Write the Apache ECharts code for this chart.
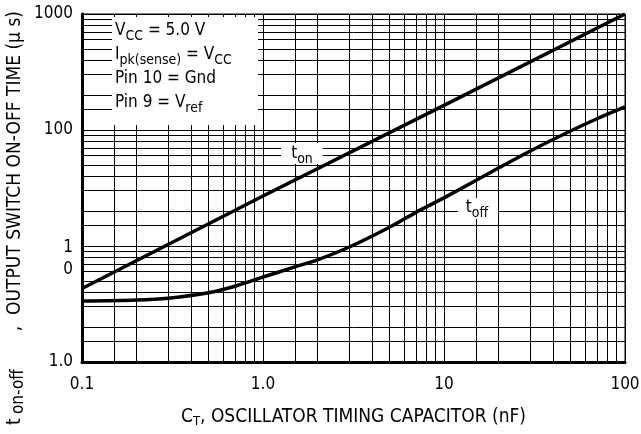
<!DOCTYPE html>
<html>
<head>
<meta charset="utf-8">
<script src="https://cdn.jsdelivr.net/npm/echarts@6/dist/echarts.min.js"></script>
<style>
  html, body { margin: 0; padding: 0; background: #fff; }
  #chart_main { width: 641px; height: 434px; }
</style>
</head>
<body>
<div id="chart_main"></div>
<script>
// capacitor values (nF) and switch times (us)
var tOnCt = [0.1, 1, 10, 100]
var tOnTime = [4.3, 27, 163, 1000]
var tOffCt = [0.1, 0.2, 0.3, 0.5, 0.7, 1, 1.5, 2, 3, 5, 7, 10, 20, 30, 50, 70, 100]
var tOffTime = [3.35, 3.42, 3.55, 3.95, 4.5, 5.4, 6.6, 7.6, 9.8, 14.5, 19.5, 26, 47, 66, 98, 125, 158]

// tick labels per decade (index = log10 offset from axis min)
var xTickLabels = ['0.1', '1.0', '10', '100']
var yTickLabels = ['1.0', '1\n0', '100', '1000']

// minor grid values
var xGrid = [0.15, 0.2, 0.3, 0.4, 0.5, 0.6, 0.7, 0.8, 0.9,
  1.5, 2, 3, 4, 5, 6, 7, 8, 9,
  15, 20, 30, 40, 50, 60, 70, 80, 90]
var yGrid = [1.5, 2, 3, 4, 5, 6, 7, 8, 9,
  15, 20, 30, 40, 50, 60, 70, 80, 90,
  150, 200, 300, 400, 500, 600, 700, 800, 900]

var FONT = '"DejaVu Sans Condensed", "Liberation Sans Narrow", sans-serif'

function pairs(xs, ys) {
  return xs.map(function (x, i) { return [x, ys[i]] })
}

var gridLines = []
xGrid.forEach(function (v) { gridLines.push({ xAxis: v }) })
yGrid.forEach(function (v) { gridLines.push({ yAxis: v }) })

var subRich = {
  n: { fontSize: 17, fontFamily: FONT, fill: '#000', lineHeight: 24 },
  s: { fontSize: 14, fontFamily: FONT, fill: '#000', lineHeight: 14, verticalAlign: 'bottom' }
}

var chart = echarts.init(document.getElementById('chart_main'))
chart.setOption({
  animation: false,
  backgroundColor: '#fff',
  textStyle: { fontFamily: FONT },
  grid: {
    left: 82,
    right: 16,
    top: 14,
    bottom: 72,
    outerBoundsMode: 'none',
    containLabel: false,
    show: true,
    borderColor: '#000',
    borderWidth: 1
  },
  xAxis: {
    type: 'log',
    logBase: 10,
    min: 0.1,
    max: 100,
    axisLine: { lineStyle: { color: '#000', width: 3 } },
    axisTick: { show: false },
    splitLine: { show: true, lineStyle: { color: '#000', width: 1 } },
    axisLabel: {
      color: '#000',
      fontSize: 17,
      fontFamily: FONT,
      margin: 14,
      formatter: function (v) {
        return xTickLabels[Math.round(Math.log10(v) + 1)]
      }
    },
    name: '{n|C}{s|T}{n|, OSCILLATOR TIMING CAPACITOR (nF)}',
    nameLocation: 'middle',
    nameGap: 44,
    nameTextStyle: {
      rich: {
        n: { fontSize: 19, fontFamily: FONT, color: '#000', lineHeight: 22 },
        s: { fontSize: 13, fontFamily: FONT, color: '#000', lineHeight: 12, verticalAlign: 'bottom' }
      }
    }
  },
  yAxis: {
    type: 'log',
    logBase: 10,
    min: 1,
    max: 1000,
    axisLine: { lineStyle: { color: '#000', width: 3 } },
    axisTick: { show: false },
    splitLine: { show: true, lineStyle: { color: '#000', width: 1 } },
    axisLabel: {
      color: '#000',
      fontSize: 17,
      fontFamily: FONT,
      margin: 9,
      formatter: function (v) {
        var s = yTickLabels[Math.round(Math.log10(v))]
        if (s.indexOf('\n') >= 0) {
          return '{e| }\n{a|' + s.split('\n').join('}\n{a|') + '}'
        }
        return '{a|' + s + '}'
      },
      rich: {
        a: { fontSize: 17, fontFamily: FONT, color: '#000', lineHeight: 22 },
        e: { fontSize: 10, lineHeight: 26 }
      }
    }
  },
  graphic: [
    {
      // y axis title
      type: 'text',
      x: 15,
      y: 425,
      rotation: Math.PI / 2,
      z: 101,
      style: {
        x: 0,
        y: 0,
        align: 'left',
        verticalAlign: 'middle',
        text: '{t|t}{s|on-off}{g| }{n|,  OUTPUT SWITCH ON-OFF TIME (\u00b5 s)}',
        rich: {
          t: { fontSize: 19, fontFamily: FONT, fill: '#000', lineHeight: 24, width: 11 },
          s: { fontSize: 17, fontFamily: FONT, fill: '#000', lineHeight: 17, verticalAlign: 'bottom' },
          g: { fontSize: 17, width: 38 },
          n: { fontSize: 19, fontFamily: FONT, fill: '#000', lineHeight: 24 }
        }
      }
    },
    {
      type: 'rect',
      z: 100,
      shape: { x: 112, y: 17, width: 146, height: 108 },
      style: { fill: '#fff' }
    },
    {
      type: 'text',
      z: 101,
      style: {
        x: 115,
        y: 19,
        text: '{n|V}{s|CC}{n| = 5.0 V}\n{n|I}{s|pk(sense)}{n| = V}{s|CC}\n{n|Pin 10 = Gnd}\n{n|Pin 9 = V}{s|ref}',
        rich: subRich
      }
    },
    {
      type: 'rect',
      z: 100,
      shape: { x: 281, y: 143, width: 42, height: 21 },
      style: { fill: '#fff' }
    },
    {
      type: 'text',
      z: 101,
      style: {
        x: 302,
        y: 154,
        align: 'center',
        verticalAlign: 'middle',
        text: '{n|t}{s|on}',
        rich: subRich
      }
    },
    {
      type: 'rect',
      z: 100,
      shape: { x: 458, y: 198, width: 40, height: 21 },
      style: { fill: '#fff' }
    },
    {
      type: 'text',
      z: 101,
      style: {
        x: 477,
        y: 208,
        align: 'center',
        verticalAlign: 'middle',
        text: '{n|t}{s|off}',
        rich: subRich
      }
    }
  ],
  series: [
    {
      name: 'grid',
      type: 'line',
      data: [],
      z: 1,
      silent: true,
      markLine: {
        silent: true,
        symbol: 'none',
        label: { show: false },
        lineStyle: { color: '#000', width: 1, type: 'solid' },
        emphasis: { disabled: true },
        data: gridLines
      }
    },
    {
      name: 't_on',
      type: 'line',
      z: 3,
      showSymbol: false,
      lineStyle: { color: '#000', width: 3.5 },
      data: pairs(tOnCt, tOnTime)
    },
    {
      name: 't_off',
      type: 'line',
      z: 3,
      showSymbol: false,
      smooth: 0.3,
      lineStyle: { color: '#000', width: 3.5 },
      data: pairs(tOffCt, tOffTime)
    }
  ]
})
</script>
</body>
</html>
